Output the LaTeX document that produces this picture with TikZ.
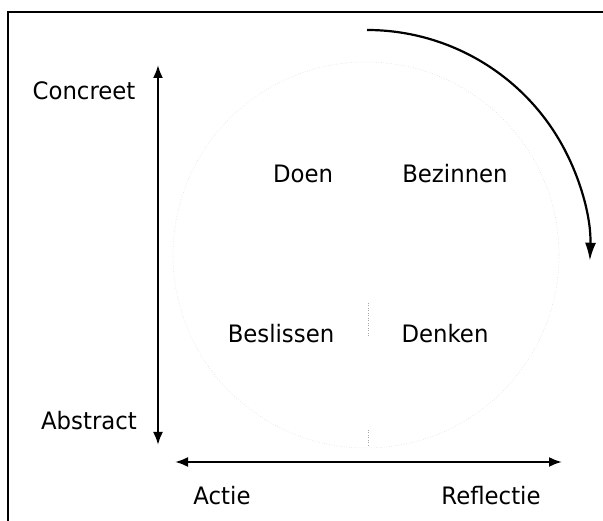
\documentclass[tikz,border=0pt]{standalone}
\usepackage{fontspec}
\setmainfont{DejaVu Sans}[FakeStretch=0.95]
\usetikzlibrary{arrows.meta}
\begin{document}
\begin{tikzpicture}[x=1pt,y=1pt,
  lbl/.style={anchor=base,inner sep=0pt,font=\fontsize{24}{28}\selectfont},
  axis/.style={line width=2.2pt,{Latex[length=13pt,width=10pt]}-{Latex[length=13pt,width=10pt]}},
  cyc/.style={line width=2.2pt,-{Latex[length=18pt,width=11pt]}},
  faint/.style={black!18,line width=0.5pt,dotted}]
\useasboundingbox (0,0) rectangle (603,521);
% frame (top and left edges)
\draw[line width=1.4pt] (603,509) -- (8,509) -- (8,0);
% faint circle traces
\draw[faint] (366,266) circle[radius=193];
\coordinate (vt) at (368,218);
\coordinate (vb) at (368,184);
\draw[faint,black!35] (vt) -- (vb);
\coordinate (wt) at (368,91);
\coordinate (wb) at (368,74);
\draw[faint,black!35] (wt) -- (wb);
% axes
\coordinate (vtop) at (158,456);
\coordinate (vbot) at (158,76);
\draw[axis] (vtop) -- (vbot);
\coordinate (hleft) at (175,59);
\coordinate (hright) at (562,59);
\draw[axis] (hleft) -- (hright);
% cycle arrow
\coordinate (cstart) at (367,491);
\draw[cyc] (cstart) arc[start angle=90,end angle=-2,radius=223];
% labels
\node[lbl] (concreet) at (84,421) {Concreet};
\node[lbl] (abstract) at (89,91) {Abstract};
\node[lbl] (doen) at (303,338) {Doen};
\node[lbl] (bezinnen) at (455,338) {Bezinnen};
\node[lbl] (beslissen) at (281,178) {Beslissen};
\node[lbl] (denken) at (445,178) {Denken};
\node[lbl] (actie) at (222,16) {Actie};
\node[lbl] (reflectie) at (491,16) {Reflectie};
\end{tikzpicture}
\end{document}
